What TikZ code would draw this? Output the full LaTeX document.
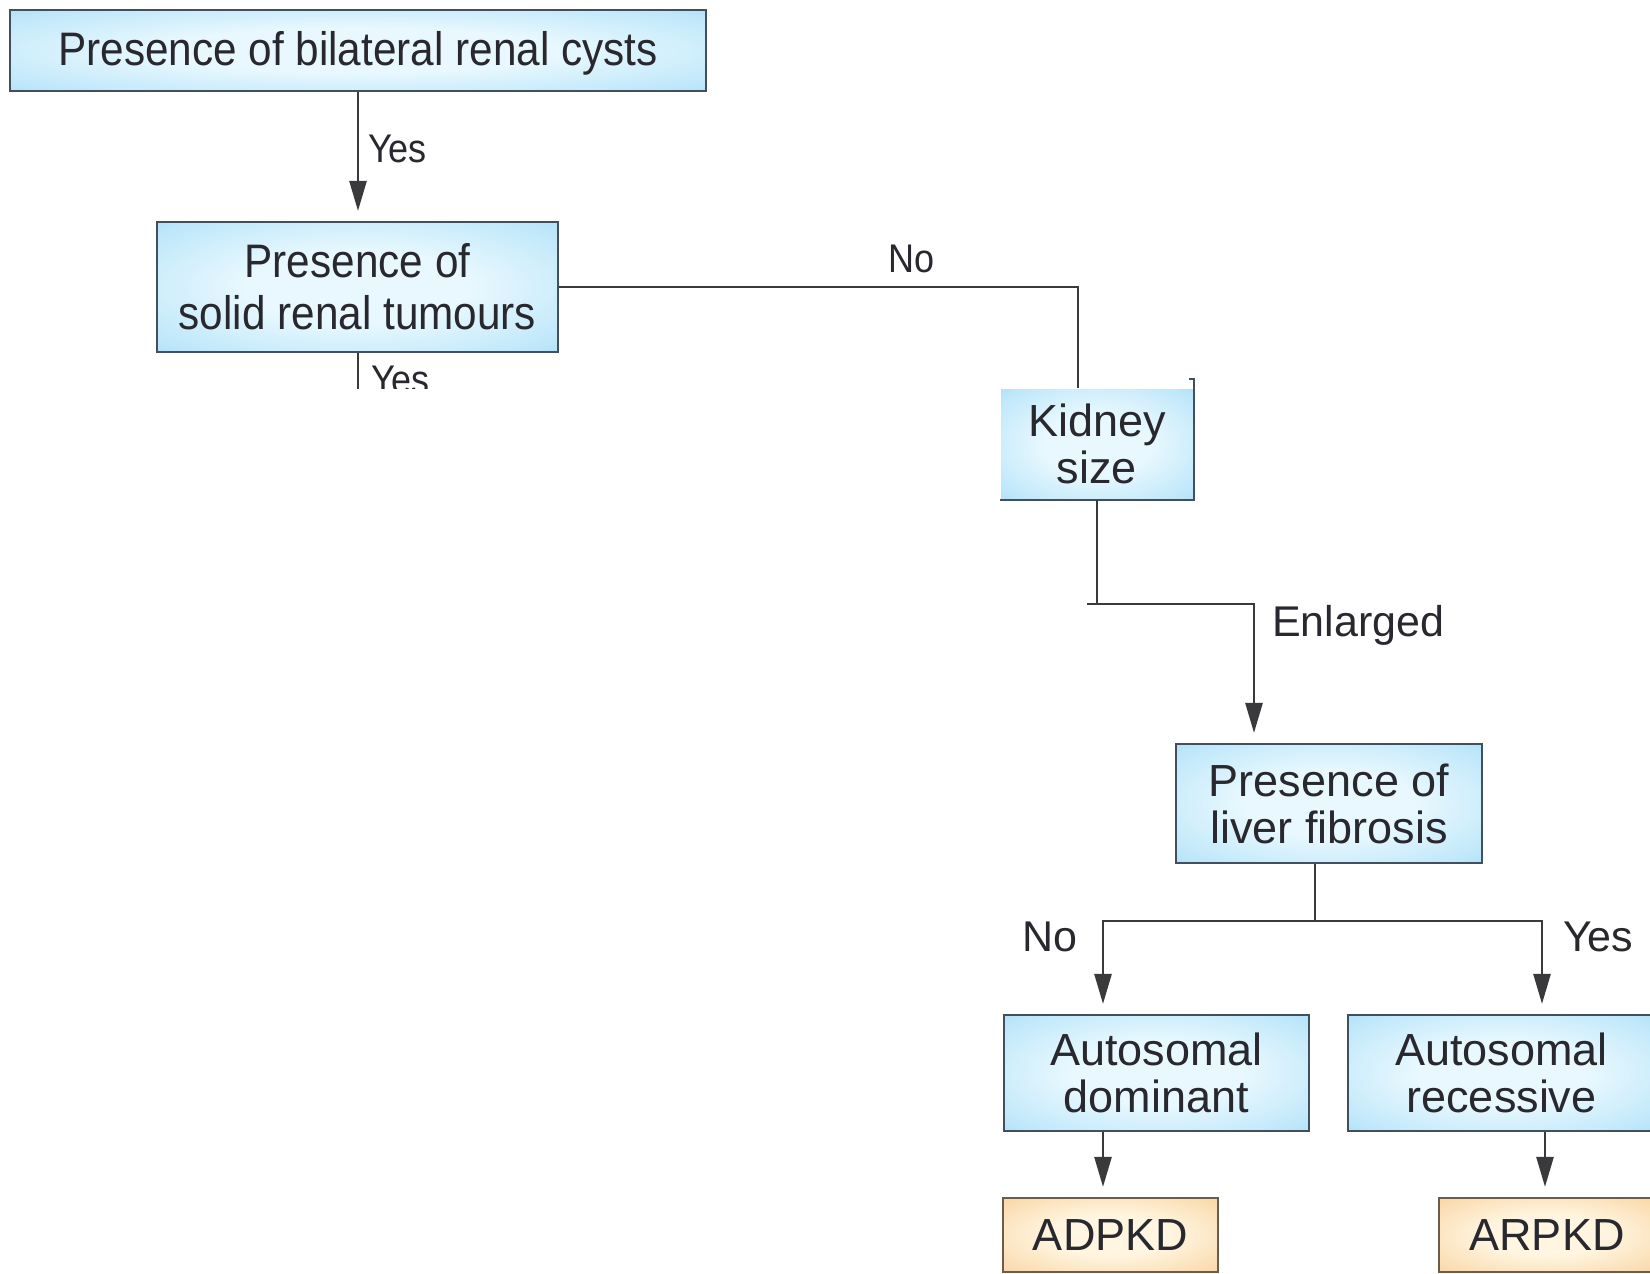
\documentclass[tikz,border=0pt]{standalone}
\usepackage{fontspec}
\setmainfont{Liberation Sans}
\newfontfamily\narrowf[FakeStretch=0.9]{Liberation Sans}
\usetikzlibrary{arrows.meta}
\definecolor{bedge}{RGB}{138,206,240}
\definecolor{bmid}{RGB}{190,231,250}
\definecolor{bcen}{RGB}{232,248,254}
\definecolor{oedge}{RGB}{245,192,128}
\definecolor{omid}{RGB}{250,220,176}
\definecolor{ocen}{RGB}{255,245,224}
\definecolor{lnc}{RGB}{58,58,60}
\definecolor{bdr}{RGB}{66,80,94}
\definecolor{obdr}{RGB}{108,92,78}
\definecolor{txt}{RGB}{40,40,46}
\pgfdeclareradialshading{blueglow}{\pgfpoint{0bp}{0bp}}{color(0bp)=(bcen); color(14bp)=(bcen); color(32bp)=(bmid); color(47bp)=(bedge); color(75bp)=(bedge)}
\pgfdeclareradialshading{orangeglow}{\pgfpoint{0bp}{0bp}}{color(0bp)=(ocen); color(14bp)=(ocen); color(32bp)=(omid); color(47bp)=(oedge); color(75bp)=(oedge)}
\tikzset{
  bluebox/.style={draw=bdr, line width=2.2pt, shading=blueglow, inner sep=0pt, align=center, text=txt},
  orangebox/.style={draw=obdr, line width=2.2pt, shading=orangeglow, inner sep=0pt, align=center, text=txt},
  topfont/.style={font=\narrowf\fontsize{47}{52}\selectfont},
  lowfont/.style={font=\fontsize{45}{47}\selectfont},
  conn/.style={draw=lnc, line width=2.6pt},
  arr/.style={conn, -{Triangle[length=30pt,width=17pt]}, shorten >=10pt},
  lbl/.style={text=txt, inner sep=0pt, font=\narrowf\fontsize{40}{42}\selectfont},
  lbl2/.style={text=txt, inner sep=0pt, font=\fontsize{43}{45}\selectfont}
}
\begin{document}
\begin{tikzpicture}[x=1pt,y=1pt]
\useasboundingbox (0,0) rectangle (1650,-1274);
\clip (0,0) rectangle (1650,-1274);
\fill[white] (0,0) rectangle (1650,-1274);

% nodes
\node[bluebox, topfont, text height=38pt, text depth=9pt, minimum width=696pt, minimum height=81pt] (b1) at (358,-50.5) {Presence of bilateral renal cysts};
\node[bluebox, topfont, minimum width=401pt, minimum height=130pt] (b2) at (357.5,-287) {Presence of\\solid renal tumours};
\node[bluebox, lowfont, draw=none, minimum width=192pt, minimum height=110pt] (kid) at (1097,-444) {Kidney\\size};
\node[bluebox, lowfont, minimum width=306pt, minimum height=119pt] (liv) at (1329,-803.5) {Presence of\\liver fibrosis};
\node[bluebox, lowfont, minimum width=305pt, minimum height=116pt] (AD) at (1156.5,-1073) {Autosomal\\dominant};
\node[bluebox, lowfont, minimum width=307pt, minimum height=116pt] (AR) at (1501.5,-1073) {Autosomal\\recessive};
\node[orangebox, lowfont, minimum width=215pt, minimum height=74pt] (ADPKD) at (1110.5,-1235) {ADPKD};
\node[orangebox, lowfont, minimum width=216pt, minimum height=74pt] (ARPKD) at (1547,-1235) {ARPKD};

% partial border of kidney box
\draw[draw=bdr, line width=2.2pt] ([xshift=-5pt,yshift=9pt]kid.north east) -- ([yshift=9pt]kid.north east) -- (kid.south east) -- (kid.south west);

% helper coordinates
\coordinate (kel) at (1097,-604);
\coordinate (lb) at (1315,-921);
\coordinate (adx) at (1103,0);
\coordinate (arx) at (1542,0);
\coordinate (arx2) at (1545,0);

% connectors
\draw[arr] (b1.south) -- (b1.south |- b2.north);
\node[lbl, anchor=base west] (y1) at (368,-162) {Yes};

\draw[conn] (b2.east) -| ([xshift=-19pt]kid.north);
\node[lbl, anchor=base west] (n1) at (888,-272) {No};

\begin{scope}
\clip (300,-352) rectangle (520,-388);
\draw[conn] (b2.south -| b1.south) -- ++(0,-60);
\node[lbl, anchor=base west] (y2) at (371,-393) {Yes};
\end{scope}

\draw[conn] (kid.south) -- (kel);
\draw[arr] ([xshift=-10pt]kel) -| ([xshift=-75pt]liv.north);
\node[lbl2, anchor=base west] (enl) at (1272,-636) {Enlarged};

\draw[conn] (liv.south -| lb) -- (lb);
\draw[arr] (lb) -| (AD.north -| adx);
\draw[arr] (lb) -| (AR.north -| arx);
\node[lbl2, anchor=base east] (n2) at (1078,-951) {No};
\node[lbl2, anchor=base west] (y3) at (1563,-951) {Yes};

\draw[arr] (AD.south -| adx) -- (ADPKD.north -| adx);
\draw[arr] (AR.south -| arx2) -- (ARPKD.north -| arx2);
\end{tikzpicture}
\end{document}
